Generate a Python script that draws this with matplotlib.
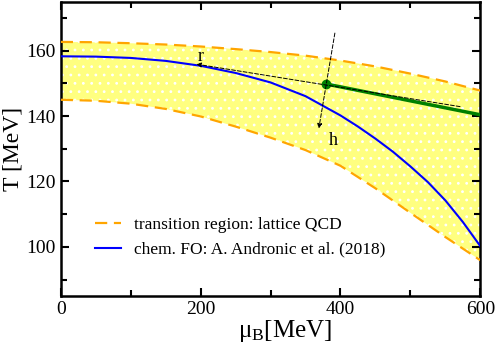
import numpy as np
import matplotlib
matplotlib.use("Agg")
import matplotlib.pyplot as plt
from matplotlib.ticker import MultipleLocator

plt.rcParams['font.family'] = ['Liberation Serif', 'DejaVu Serif']
plt.rcParams['mathtext.fontset'] = 'custom'
plt.rcParams['mathtext.rm'] = 'Liberation Serif'
plt.rcParams['mathtext.it'] = 'Liberation Serif:italic'
plt.rcParams['hatch.linewidth'] = 0.8

# values
mu = [0, 50, 100, 150, 200, 250, 300, 350, 400, 450, 500, 550, 600]
T_upper = [162.7, 162.6, 162.3, 161.9, 161.3, 160.5, 159.6, 158.5, 157.0, 155.2, 153.0, 150.6, 147.8]
T_lower = [145.0, 144.7, 143.8, 142.2, 139.9, 136.8, 133.4, 129.6, 124.8, 117.9, 110.4, 103.0, 95.9]

mu_chem = [0, 50, 100, 150, 200, 250, 300, 350, 400, 425, 450, 475, 500, 525, 550, 575, 600]
T_chem = [158.3, 158.2, 157.8, 156.9, 155.4, 153.2, 150.3, 146.1, 140.2, 136.8, 133.1,
          129.1, 124.6, 119.8, 114.2, 107.6, 100.2]

mu_green = [380, 600]
T_green = [149.8, 140.4]
point = (380, 149.8)
r_tail = (571, 142.9)
r_tip = (194, 155.9)
h_tail = (392, 165.4)
h_tip = (369, 136.2)

fig = plt.figure(figsize=(4.98, 3.44), dpi=100)
ax = fig.add_axes([0.122, 0.140, 0.8425, 0.855])

ax.fill_between(mu, T_lower, T_upper, facecolor='#ffff80', edgecolor='white',
                hatch='..', linewidth=0, zorder=1)
ax.plot(mu, T_upper, color='#ffa500', lw=1.6, dashes=(5.5, 3), zorder=3,
        label='transition region: lattice QCD')
ax.plot(mu, T_lower, color='#ffa500', lw=1.6, dashes=(5.5, 3), zorder=3)
ax.plot(mu_chem, T_chem, color='#0000ff', lw=1.5, zorder=4,
        label='chem. FO: A. Andronic et al. (2018)')
ax.plot(mu_green, T_green, color='#008000', lw=2.5, zorder=5)
ax.plot(*point, 'o', color='#008000', ms=6, zorder=6)

# direction arrows
for tail, tip in [(r_tail, r_tip), (h_tail, h_tip)]:
    ax.annotate('', xy=tip, xytext=tail,
                arrowprops=dict(arrowstyle='-|>', linestyle=(0, (4, 2)), lw=0.7,
                                color='black', mutation_scale=7, shrinkA=0, shrinkB=0),
                zorder=7)
ax.text(196, 155.6, 'r', fontsize=13, ha='left', va='bottom', zorder=8)
ax.text(383, 132.4, 'h', fontsize=13, ha='left', va='center', zorder=8)

ax.set_xlim(0, 600)
ax.set_ylim(85, 175)
ax.xaxis.set_major_locator(MultipleLocator(200))
ax.xaxis.set_minor_locator(MultipleLocator(100))
ax.yaxis.set_major_locator(MultipleLocator(20))
ax.yaxis.set_minor_locator(MultipleLocator(10))
ax.tick_params(which='both', direction='in', top=True, right=True, width=1.5, labelsize=14)
ax.tick_params(which='major', length=6)
ax.tick_params(which='minor', length=4)
for s in ax.spines.values():
    s.set_linewidth(1.8)

ax.set_xlabel(r'$\mathrm{\mu_B}$[MeV]', fontsize=18, labelpad=0)
ax.xaxis.set_label_coords(0.535, -0.075, transform=ax.transAxes)
ax.xaxis.label.set_va('top')
ax.set_ylabel('T [MeV]', fontsize=17, labelpad=2)

ax.legend(loc='lower left', bbox_to_anchor=(0.082, 0.13), frameon=False,
          borderpad=0, borderaxespad=0, handlelength=1.5, handletextpad=0.75,
          labelspacing=0.5, fontsize=12.5)

fig.savefig('out.png', dpi=100)
